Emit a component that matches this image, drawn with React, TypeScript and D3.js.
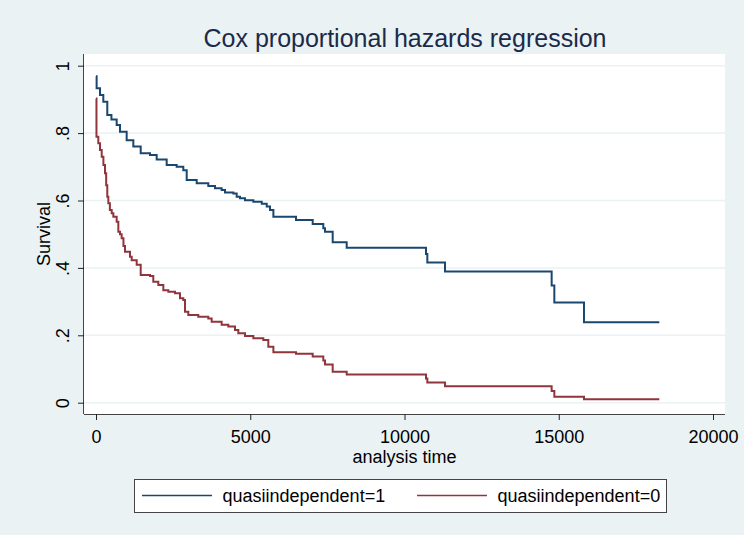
import React, { useEffect, useRef } from 'react';
import * as d3 from 'd3';

// survival estimates (analysis time, survival)
const blueTime = [0, 20, 130, 237, 366, 500, 670, 778, 994, 1210, 1449, 1750, 1967, 2291, 2615, 2830, 2940, 3264, 3640, 3857, 4073, 4181, 4451, 4560, 4668, 4830, 5100, 5372, 5534, 5640, 5750, 6483, 7024, 7368, 7423, 7672, 8126, 10697, 10740, 11313, 14770, 14857, 15818, 18260];
const blueSurv = [0.969, 0.933, 0.913, 0.893, 0.854, 0.84, 0.824, 0.804, 0.779, 0.76, 0.74, 0.735, 0.722, 0.705, 0.7, 0.69, 0.661, 0.651, 0.643, 0.636, 0.631, 0.624, 0.621, 0.611, 0.607, 0.601, 0.596, 0.59, 0.582, 0.572, 0.552, 0.542, 0.53, 0.518, 0.507, 0.476, 0.46, 0.441, 0.416, 0.389, 0.348, 0.297, 0.239, 0.239];

const redTime = [0, 15, 75, 130, 185, 240, 292, 330, 366, 400, 450, 509, 562, 670, 724, 778, 832, 890, 940, 1102, 1157, 1319, 1449, 1750, 1857, 2020, 2183, 2345, 2561, 2723, 2830, 2885, 2992, 3316, 3640, 3749, 4073, 4289, 4506, 4613, 4830, 5100, 5424, 5586, 5750, 6483, 7024, 7368, 7423, 7672, 8126, 10697, 10740, 11313, 14770, 14857, 15818, 18260];
const redSurv = [0.903, 0.789, 0.77, 0.75, 0.73, 0.705, 0.681, 0.645, 0.611, 0.592, 0.572, 0.562, 0.552, 0.537, 0.507, 0.5, 0.488, 0.465, 0.448, 0.433, 0.423, 0.409, 0.379, 0.376, 0.359, 0.349, 0.334, 0.329, 0.325, 0.31, 0.305, 0.27, 0.26, 0.255, 0.25, 0.24, 0.231, 0.226, 0.216, 0.206, 0.198, 0.191, 0.186, 0.166, 0.15, 0.145, 0.137, 0.125, 0.113, 0.092, 0.084, 0.072, 0.06, 0.049, 0.035, 0.018, 0.01, 0.01];

const xTicks = [0, 5000, 10000, 15000, 20000];
const yTicks = [0, 0.2, 0.4, 0.6, 0.8, 1];
const yTickLabels = ['0', '.2', '.4', '.6', '.8', '1'];
const seriesNames = ['quasiindependent=1', 'quasiindependent=0'];

const W = 744;
const H = 535;
const plot = { left: 84, right: 725, top: 54, bottom: 414 };
const bg = '#eaf2f3';
const blue = '#1a476f';
const red = '#90353b';
const font = '"Liberation Sans", Arial, sans-serif';

const App = () => {
  const ref = useRef<SVGSVGElement>(null);

  useEffect(() => {
    const svg = d3.select(ref.current);
    svg.selectAll('*').remove();

    const x = d3.scaleLinear().domain([0, 20000]).range([96, 713]);
    const y = d3.scaleLinear().domain([0, 1]).range([402.7, 65.7]);

    svg.append('rect').attr('width', W).attr('height', H).attr('fill', bg);
    svg.append('rect')
      .attr('x', plot.left).attr('y', plot.top)
      .attr('width', plot.right - plot.left).attr('height', plot.bottom - plot.top)
      .attr('fill', '#fff');

    // gridlines
    svg.append('g')
      .selectAll('line')
      .data(yTicks)
      .enter()
      .append('line')
      .attr('x1', plot.left).attr('x2', plot.right)
      .attr('y1', (d) => y(d)).attr('y2', (d) => y(d))
      .attr('stroke', bg).attr('stroke-width', 1.5);

    // x axis
    const gx = svg.append('g')
      .attr('transform', `translate(0,${plot.bottom})`)
      .call(d3.axisBottom(x).tickValues(xTicks).tickSize(6).tickPadding(6).tickFormat(d3.format('d')));
    gx.select('.domain').attr('d', `M${plot.left},0.5H${plot.right}`).attr('stroke', '#444');
    gx.selectAll('.tick line').attr('stroke', '#222');
    gx.selectAll('.tick text')
      .attr('font-family', font).attr('font-size', 18).attr('fill', '#000')
      .attr('dy', null).attr('y', 28.5);

    // y axis
    const gy = svg.append('g')
      .attr('transform', `translate(${plot.left},0)`)
      .call(d3.axisLeft(y).tickValues(yTicks).tickSize(6).tickFormat((d, i) => yTickLabels[i]));
    gy.select('.domain').attr('d', `M-0.5,${plot.top}V${plot.bottom}`).attr('stroke', '#444');
    gy.selectAll('.tick line').attr('stroke', '#222');
    gy.selectAll('.tick text')
      .attr('font-family', font).attr('font-size', 18).attr('fill', '#000')
      .attr('x', null).attr('dy', null)
      .attr('text-anchor', 'middle')
      .attr('transform', 'translate(-15,0) rotate(-90)');

    // survival curves
    const line = d3.line<[number, number]>()
      .x((d) => x(d[0]))
      .y((d) => y(d[1]))
      .curve(d3.curveStepAfter);
    const series = [
      { pts: blueTime.map((t, i) => [t, blueSurv[i]] as [number, number]), color: blue },
      { pts: redTime.map((t, i) => [t, redSurv[i]] as [number, number]), color: red },
    ];
    series.forEach((s) => {
      svg.append('path')
        .attr('d', line(s.pts))
        .attr('fill', 'none')
        .attr('stroke', s.color)
        .attr('stroke-width', 2);
    });

    // titles
    svg.append('text')
      .attr('x', 405).attr('y', 47)
      .attr('text-anchor', 'middle')
      .attr('font-family', font).attr('font-size', 25)
      .attr('fill', '#1c2a4a')
      .text('Cox proportional hazards regression');
    svg.append('text')
      .attr('x', 404.5).attr('y', 463)
      .attr('text-anchor', 'middle')
      .attr('font-family', font).attr('font-size', 18)
      .text('analysis time');
    svg.append('text')
      .attr('transform', `translate(50,${(plot.top + plot.bottom) / 2}) rotate(-90)`)
      .attr('text-anchor', 'middle')
      .attr('font-family', font).attr('font-size', 18)
      .text('Survival');

    // legend
    const lg = svg.append('g');
    lg.append('rect')
      .attr('x', 134.5).attr('y', 479.5).attr('width', 532).attr('height', 33)
      .attr('fill', '#fff').attr('stroke', '#444');
    const items = [
      { x: 142, color: blue, name: seriesNames[0] },
      { x: 417, color: red, name: seriesNames[1] },
    ];
    items.forEach((it) => {
      lg.append('line')
        .attr('x1', it.x).attr('x2', it.x + 70)
        .attr('y1', 495.5).attr('y2', 495.5)
        .attr('stroke', it.color).attr('stroke-width', 1.5);
      lg.append('text')
        .attr('x', it.x + 80.5).attr('y', 502)
        .attr('font-family', font).attr('font-size', 18)
        .text(it.name);
    });
  }, []);

  return (
    <svg
      ref={ref}
      width={W}
      height={H}
      style={{ position: 'absolute', left: 0, top: 0, display: 'block' }}
    />
  );
};

export default App;
